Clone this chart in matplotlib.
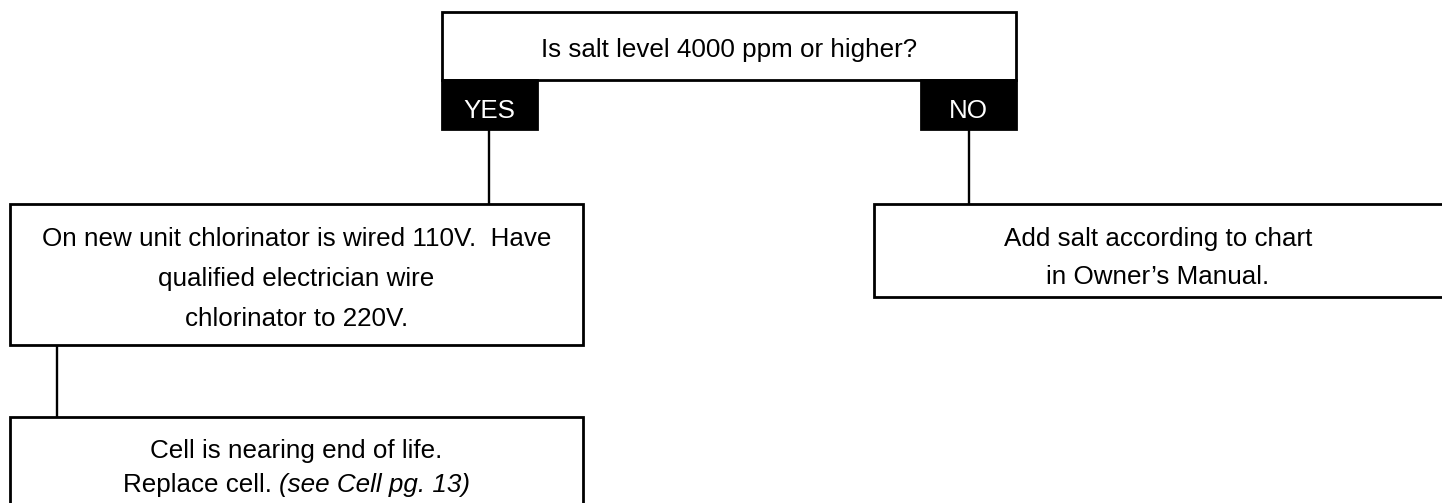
import matplotlib
matplotlib.use('Agg')
import matplotlib.pyplot as plt
from matplotlib import font_manager
from matplotlib.patches import Rectangle

# narrow Helvetica-like face if present, plain Liberation Sans otherwise
names = {f.name for f in font_manager.fontManager.ttflist}
if 'Liberation Sans Narrow' in names:
    face, fs = 'Liberation Sans Narrow', 22.6
else:
    face, fs = 'Liberation Sans', 18.7
plt.rcParams['font.family'] = [face, 'DejaVu Sans']

# Chart content
question = "Is salt level 4000 ppm or higher?"
branch_labels = ["YES", "NO"]
yes_lines = ["On new unit chlorinator is wired 110V.  Have",
             "qualified electrician wire",
             "chlorinator to 220V."]
no_lines = ["Add salt according to chart", "in Owner\u2019s Manual."]
end_lines = ["Cell is nearing end of life.", "Replace cell."]
end_ref = "(see Cell pg. 13)"

W, H = 1442, 503
lw = 2.0

fig = plt.figure(figsize=(W/100, H/100), dpi=100)
ax = fig.add_axes([0, 0, 1, 1])
ax.set_xlim(0, W)
ax.set_ylim(H, 0)
ax.axis('off')

def box(x0, y0, x1, y1, fill='white'):
    ax.add_patch(Rectangle((x0, y0), x1-x0, y1-y0, facecolor=fill,
                           edgecolor='black', linewidth=lw, zorder=2))

def line(x0, y0, x1, y1):
    ax.plot([x0, x1], [y0, y1], color='black', linewidth=1.7, zorder=1,
            solid_capstyle='butt')

# question box and branch tabs
box(442, 12, 1016, 80)
ax.text(729, 57, question, ha='center', va='baseline', fontsize=fs, zorder=3)
tabs = [(442, 537), (921, 1016)]
for (tx0, tx1), lab in zip(tabs, branch_labels):
    box(tx0, 80, tx1, 129, fill='black')
    ax.text((tx0+tx1)/2, 118, lab, ha='center', va='baseline', fontsize=fs,
            color='white', zorder=3)

# connectors
line(489, 129, 489, 204)
line(969, 129, 969, 204)
line(57, 345, 57, 417)

# YES box
box(10, 204, 583, 345)
for i, s in enumerate(yes_lines):
    ax.text(296.5, 246 + 40*i, s, ha='center', va='baseline', fontsize=fs, zorder=3)

# NO box
box(874, 204, 1450, 297)
for i, s in enumerate(no_lines):
    ax.text(1158, 246 + 38*i, s, ha='center', va='baseline', fontsize=fs, zorder=3)

# end box
box(10, 417, 583, 510)
ax.text(296.5, 458, end_lines[0], ha='center', va='baseline', fontsize=fs, zorder=3)

# mixed upright / italic last line, centred as one
fig.canvas.draw()
r = fig.canvas.get_renderer()
t1 = ax.text(0, 492, end_lines[1], ha='left', va='baseline', fontsize=fs, zorder=3)
t2 = ax.text(0, 492, end_ref, ha='left', va='baseline', fontsize=fs,
             style='italic', zorder=3)
tmp_a = ax.text(0, 0, "a a", fontsize=fs)
tmp_b = ax.text(0, 0, "aa", fontsize=fs)
sp = tmp_a.get_window_extent(r).width - tmp_b.get_window_extent(r).width
tmp_a.remove(); tmp_b.remove()
w1 = t1.get_window_extent(r).width
w2 = t2.get_window_extent(r).width
start = 296.5 - (w1 + sp + w2)/2
t1.set_x(start)
t2.set_x(start + w1 + sp)

fig.savefig('out.png', dpi=100)
